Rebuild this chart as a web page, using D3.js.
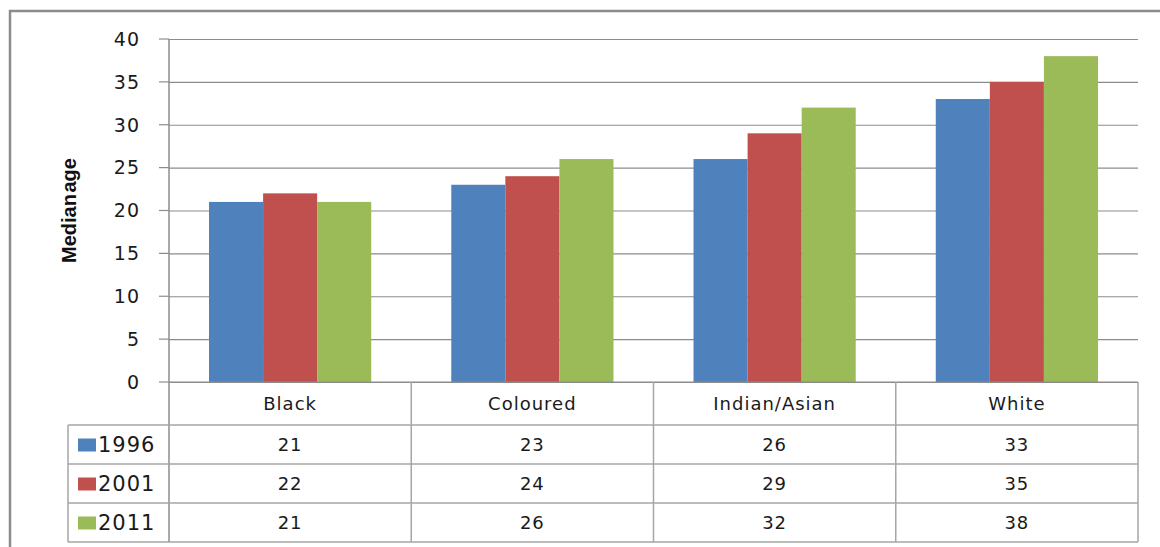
<!DOCTYPE html>
<html><head><meta charset="utf-8">
<script src="https://cdn.jsdelivr.net/npm/d3@7"></script>
<style>body{margin:0;background:#fff}svg{display:block}</style>
</head><body>
<svg id="c" width="1160" height="547"></svg>
<script>
const categories = ["Black", "Coloured", "Indian/Asian", "White"];
const seriesNames = ["1996", "2001", "2011"];
const values1996 = [21, 23, 26, 33];
const values2001 = [22, 24, 29, 35];
const values2011 = [21, 26, 32, 38];
const seriesColors = ["#4F81BD", "#C0504D", "#9BBB59"];
const yTicks = [0, 5, 10, 15, 20, 25, 30, 35, 40];
const yTitle = "Median age";

const series = [values1996, values2001, values2011];
const svg = d3.select("#c");
const font = "DejaVu Sans";
const L = 169, R = 1138, T = 39, B = 382;
const tableLeft = 68;
const rowH = [382, 425, 464, 503, 542];

// outer frame
svg.append("rect").attr("x", 10).attr("y", 11).attr("width", 1170).attr("height", 570)
  .attr("fill", "none").attr("stroke", "#8c8c8c").attr("stroke-width", 2.5);

const x = d3.scaleBand().domain(categories).range([L, R]);
const xs = d3.scaleBand().domain(seriesNames).range([0, x.bandwidth()]).paddingInner(0).paddingOuter(0.74);
const y = d3.scaleLinear().domain([0, 40]).range([B, T]);

// gridlines
const yAxis = d3.axisLeft(y).tickValues(yTicks).tickSize(-(R - L)).tickFormat("");
const g = svg.append("g").attr("transform", `translate(${L},0)`).call(yAxis);
g.select(".domain").remove();
g.selectAll(".tick line").attr("stroke", "#8c8c8c").attr("stroke-width", 1.2);
// tick marks outside
svg.append("g").selectAll("line").data(yTicks).join("line")
  .attr("x1", 159).attr("x2", L).attr("y1", d => y(d)).attr("y2", d => y(d))
  .attr("stroke", "#8c8c8c").attr("stroke-width", 1.2);
// tick labels
svg.append("g").selectAll("text").data(yTicks).join("text")
  .attr("x", 140).attr("y", d => y(d)).attr("dy", "0.36em")
  .attr("text-anchor", "end").attr("font-family", font).attr("font-size", 19)
  .attr("letter-spacing", 1).attr("fill", "#1a1a1a").text(d => d);

// bars
categories.forEach((c, ci) => {
  series.forEach((s, si) => {
    svg.append("rect")
      .attr("x", x(c) + xs(seriesNames[si])).attr("width", xs.bandwidth())
      .attr("y", y(s[ci])).attr("height", y(0) - y(s[ci]))
      .attr("fill", seriesColors[si]);
  });
});

// vertical axis line
svg.append("line").attr("x1", L).attr("x2", L).attr("y1", T).attr("y2", rowH[4])
  .attr("stroke", "#8c8c8c").attr("stroke-width", 1.5);

// table
const tcol = "#a6a6a6";
const tg = svg.append("g");
tg.append("line").attr("x1", L).attr("x2", R).attr("y1", rowH[0]).attr("y2", rowH[0]).attr("stroke", "#8c8c8c").attr("stroke-width", 1.2);
[1, 2, 3, 4].forEach(i => tg.append("line").attr("x1", tableLeft).attr("x2", R).attr("y1", rowH[i]).attr("y2", rowH[i]).attr("stroke", tcol).attr("stroke-width", 1.5));
tg.append("line").attr("x1", tableLeft).attr("x2", tableLeft).attr("y1", rowH[1]).attr("y2", rowH[4]).attr("stroke", tcol).attr("stroke-width", 1.5);
categories.forEach(c => {
  tg.append("line").attr("x1", x(c) + x.bandwidth()).attr("x2", x(c) + x.bandwidth())
    .attr("y1", rowH[0]).attr("y2", rowH[4]).attr("stroke", tcol).attr("stroke-width", 1.5);
});
categories.forEach(c => {
  tg.append("text").attr("x", x(c) + x.bandwidth() / 2).attr("y", (rowH[0] + rowH[1]) / 2)
    .attr("dy", "0.36em").attr("text-anchor", "middle").attr("font-family", font)
    .attr("font-size", 18).attr("letter-spacing", 1).attr("fill", "#1a1a1a").text(c);
});
seriesNames.forEach((n, si) => {
  const cy = (rowH[si + 1] + rowH[si + 2]) / 2;
  tg.append("rect").attr("x", 78).attr("y", cy - 6).attr("width", 18).attr("height", 13).attr("fill", seriesColors[si]);
  tg.append("text").attr("x", 98).attr("y", cy).attr("dy", "0.36em").attr("font-family", font)
    .attr("font-size", 21).attr("letter-spacing", 1).attr("fill", "#1a1a1a").text(n);
  categories.forEach((c, ci) => {
    tg.append("text").attr("x", x(c) + x.bandwidth() / 2).attr("y", cy).attr("dy", "0.36em")
      .attr("text-anchor", "middle").attr("font-family", font).attr("font-size", 18)
      .attr("letter-spacing", 1).attr("fill", "#1a1a1a").text(series[si][ci]);
  });
});

// y title
svg.append("text").attr("transform", `translate(76,${(T + B) / 2}) rotate(-90)`)
  .attr("text-anchor", "middle").attr("font-family", "Liberation Sans").attr("font-weight", "bold")
  .attr("font-size", 20).attr("word-spacing", -4).attr("fill", "#111").text(yTitle);
</script>
</body></html>
